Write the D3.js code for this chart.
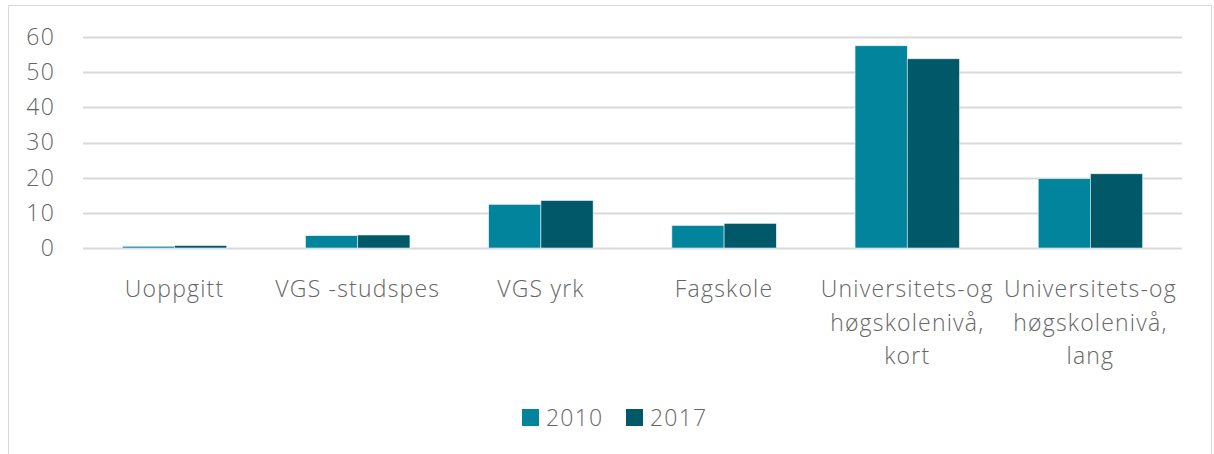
<!DOCTYPE html>
<html>
<head>
<meta charset="utf-8">
<script src="https://cdn.jsdelivr.net/npm/d3@7/dist/d3.min.js"></script>
<style>
  body { margin: 0; background: #fff; }
  text { font-family: "Open Sans", sans-serif; font-weight: 300; fill: #666; letter-spacing: 1.2px; }
</style>
</head>
<body>
<div id="chart"></div>
<script>
var categories = [
    ["Uoppgitt"],
    ["VGS -studspes"],
    ["VGS yrk"],
    ["Fagskole"],
    ["Universitets-og", "høgskolenivå,", "kort"],
    ["Universitets-og", "høgskolenivå,", "lang"]
];
var seriesNames = ["2010", "2017"];
var values2010 = [0.5, 3.5, 12.4, 6.4, 57.5, 19.7];
var values2017 = [0.7, 3.7, 13.5, 7.0, 53.8, 21.1];
var yTicks = [0, 10, 20, 30, 40, 50, 60];
var colors = ["#02849d", "#015868"];

var svg = d3.select("#chart").append("svg")
    .attr("width", 1214)
    .attr("height", 454);

// chart border
svg.append("rect")
    .attr("x", 8.5).attr("y", 5.5)
    .attr("width", 1203).attr("height", 460)
    .attr("fill", "none")
    .attr("stroke", "#d9d9d9");

var margin = { top: 37, left: 83, right: 32, bottom: 206 },
    width = 1214 - margin.left - margin.right,
    height = 454 - margin.top - margin.bottom;

var g = svg.append("g").attr("transform", "translate(" + margin.left + "," + margin.top + ")");

var x0 = d3.scaleBand()
    .domain(d3.range(categories.length))
    .range([0, width])
    .paddingInner(0.43)
    .paddingOuter(0.215);

var x1 = d3.scaleBand()
    .domain(seriesNames)
    .range([0, x0.bandwidth()]);

var y = d3.scaleLinear().domain([0, 60]).range([height, 0]);

// gridlines
g.append("g")
    .selectAll("line")
    .data(yTicks)
    .enter().append("line")
    .attr("x1", 0).attr("x2", width)
    .attr("y1", function (d) { return Math.round(y(d)) + 0.5; })
    .attr("y2", function (d) { return Math.round(y(d)) + 0.5; })
    .attr("stroke", "#d9d9d9")
    .attr("stroke-width", 2);

// y axis labels
var yAxis = g.append("g")
    .call(d3.axisLeft(y).tickValues(yTicks).tickSize(0).tickPadding(28));
yAxis.select(".domain").remove();
yAxis.selectAll("text")
    .style("font-family", "'Open Sans', sans-serif")
    .style("font-size", "23px")
    .attr("fill", "#666");

// bars
var data = categories.map(function (c, i) {
    return [values2010[i], values2017[i]];
});

var groups = g.append("g")
    .selectAll("g")
    .data(data)
    .enter().append("g")
    .attr("transform", function (d, i) { return "translate(" + x0(i) + ",0)"; });

groups.selectAll("rect")
    .data(function (d) { return d.map(function (v, j) { return { key: seriesNames[j], value: v, idx: j }; }); })
    .enter().append("rect")
    .attr("x", function (d) { return x1(d.key); })
    .attr("width", x1.bandwidth())
    .attr("y", function (d) { return y(d.value); })
    .attr("height", function (d) { return height - y(d.value); })
    .attr("fill", function (d) { return colors[d.idx]; })
    .attr("stroke", "#e8f2f4")
    .attr("stroke-width", 0.6);

// category labels
var labels = g.append("g")
    .selectAll("text")
    .data(categories)
    .enter().append("text")
    .attr("text-anchor", "middle")
    .attr("transform", function (d, i) { return "translate(" + (x0(i) + x0.bandwidth() / 2) + "," + (height + 49) + ")"; })
    .style("font-size", "23px");

labels.selectAll("tspan")
    .data(function (d) { return d; })
    .enter().append("tspan")
    .attr("x", 0)
    .attr("dy", function (d, i) { return i === 0 ? 0 : 33.5; })
    .text(function (d) { return d; });

// legend
var legend = svg.append("g").attr("transform", "translate(522,409)");
var items = legend.selectAll("g")
    .data(seriesNames)
    .enter().append("g")
    .attr("transform", function (d, i) { return "translate(" + (i * 104) + ",0)"; });
items.append("rect")
    .attr("width", 17).attr("height", 17)
    .attr("fill", function (d, i) { return colors[i]; });
items.append("text")
    .attr("x", 24).attr("y", 17)
    .style("font-size", "23px")
    .text(function (d) { return d; });
</script>
</body>
</html>
